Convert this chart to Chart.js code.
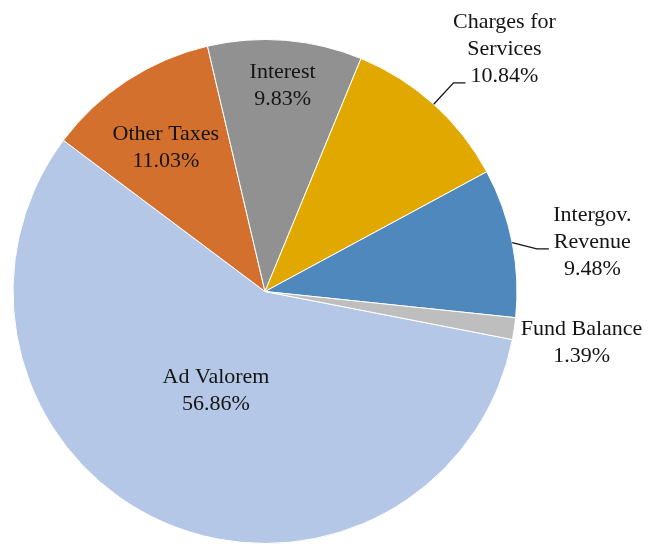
<!DOCTYPE html>
<html>
<head>
<meta charset="utf-8">
<script src="https://cdn.jsdelivr.net/npm/chart.js@4.4.0/dist/chart.umd.min.js"></script>
<style>
  body { margin: 0; background: #fff; }
</style>
</head>
<body>
<canvas id="myChart" width="648" height="544"></canvas>
<script>
// Data
const categories = ['Ad Valorem', 'Other Taxes', 'Interest', 'Charges for Services', 'Intergov. Revenue', 'Fund Balance'];
const shares = [56.86, 11.03, 9.83, 10.84, 9.48, 1.39];
// label text lines (name split as in the picture)
const labelLines = [['Ad Valorem'], ['Other Taxes'], ['Interest'], ['Charges for', 'Services'], ['Intergov.', 'Revenue'], ['Fund Balance']];
const colors = ['#b4c7e7', '#d3702d', '#919191', '#e1a900', '#4e88bc', '#bebebe'];

// label placement: distance as share of radius, small nudge, leader line attached to which text line
const labelPlace = [
  { dist: 0.44, dx: -4, dy: -2 },
  { dist: 0.69, dx: -4, dy: 2 },
  { dist: 0.82, dx: 1, dy: 0 },
  { dist: 1.36, dx: 10, dy: 12, leader: 2 },
  { dist: 1.32, dx: 1, dy: 15, leader: 1 },
  { dist: 1.27, dx: 0, dy: 4 }
];

const FONT = '22px "Liberation Serif", "DejaVu Serif", serif';
const LINE_H = 27;

const pieLabels = {
  id: 'pieLabels',
  afterDatasetsDraw(chart) {
    const c = chart.ctx;
    const arcs = chart.getDatasetMeta(0).data;
    c.save();
    c.font = FONT;
    c.fillStyle = '#141414';
    c.strokeStyle = '#141414';
    c.lineWidth = 1.3;
    c.textAlign = 'center';
    c.textBaseline = 'middle';
    arcs.forEach((arc, i) => {
      const p = arc.getProps(['x', 'y', 'startAngle', 'endAngle', 'outerRadius'], true);
      const mid = (p.startAngle + p.endAngle) / 2;
      const place = labelPlace[i];
      const cx = p.x + Math.cos(mid) * p.outerRadius * place.dist + place.dx;
      const cy = p.y + Math.sin(mid) * p.outerRadius * place.dist + place.dy;
      const lines = labelLines[i].concat([shares[i].toFixed(2) + '%']);
      const top = cy - (lines.length - 1) * LINE_H / 2;
      lines.forEach((t, k) => c.fillText(t, cx, top + k * LINE_H));

      if (place.leader !== undefined) {
        const w = c.measureText(lines[place.leader]).width;
        const ex = cx - w / 2 - 5;
        const ey = top + place.leader * LINE_H + 7;
        const sx = p.x + Math.cos(mid) * p.outerRadius;
        const sy = p.y + Math.sin(mid) * p.outerRadius;
        c.beginPath();
        c.moveTo(sx, sy);
        c.lineTo(ex - 12, ey);
        c.lineTo(ex, ey);
        c.stroke();
      }
    });
    c.restore();
  }
};

const ctx = document.getElementById('myChart').getContext('2d');
const chart = new Chart(ctx, {
  type: 'pie',
  data: {
    labels: categories,
    datasets: [{
      data: shares,
      backgroundColor: colors,
      borderColor: '#ffffff',
      borderWidth: 1
    }]
  },
  options: {
    responsive: false,
    animation: false,
    rotation: 101,
    layout: { padding: { left: 12, right: 130, top: 39, bottom: 0 } },
    plugins: {
      legend: { display: false },
      tooltip: { enabled: false }
    }
  },
  plugins: [pieLabels]
});
</script>
</body>
</html>
